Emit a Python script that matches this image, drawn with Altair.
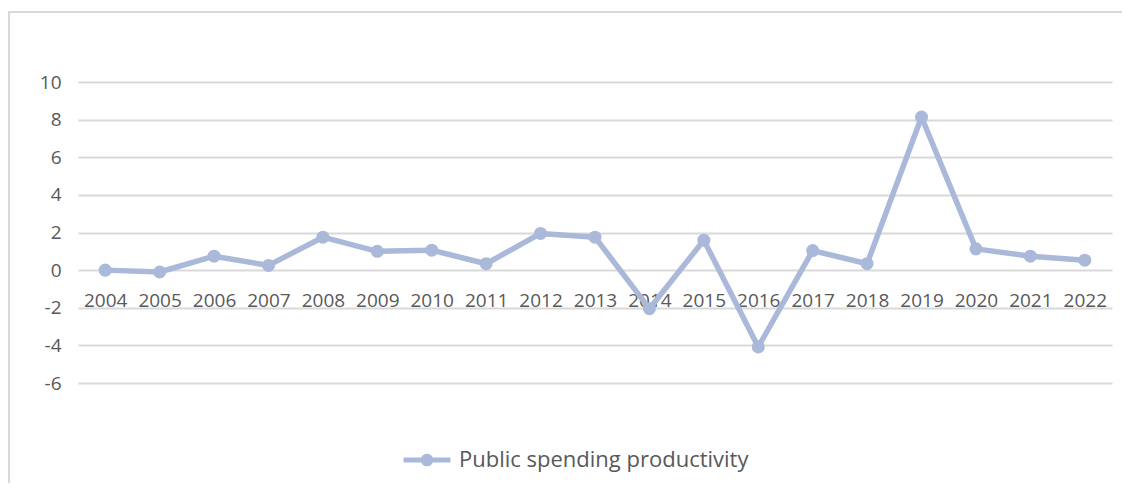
import altair as alt
import pandas as pd

years = [str(y) for y in range(2004, 2023)]
values = [0.0, -0.1, 0.74, 0.25, 1.75, 1.0, 1.06, 0.34, 1.95, 1.75,
          -2.05, 1.59, -4.08, 1.04, 0.34, 8.14, 1.13, 0.74, 0.53]
series_name = "Public spending productivity"
y_ticks = [-6, -4, -2, 0, 2, 4, 6, 8, 10]

LINE = "#aab9d9"
TEXT = "#595959"
GRID = "#d9d9d9"
FONT = "Open Sans"

df = pd.DataFrame({"year": years, "value": values, "series": [series_name] * len(years)})

x_enc = alt.X(
    "year:O",
    scale=alt.Scale(type="point", padding=0.5),
    axis=alt.Axis(
        title=None, domain=False, ticks=False, tickSize=0, grid=False,
        labelAngle=0, labelFont=FONT, labelFontSize=19, labelColor=TEXT,
        labelPadding=21, labelBaseline="top", offset=-112.6,
    ),
)
y_enc = alt.Y(
    "value:Q",
    scale=alt.Scale(domain=[-6, 10], nice=False, zero=False),
    axis=alt.Axis(
        title=None, values=y_ticks, domain=False, ticks=False, tickSize=0,
        grid=True, gridColor=GRID, gridWidth=2,
        labelExpr="'' + datum.value",
        labelFont=FONT, labelFontSize=19, labelColor=TEXT, labelPadding=17,
    ),
)

base = alt.Chart(df)

line = base.mark_line(color=LINE, strokeWidth=5.5, strokeJoin="round", strokeCap="round").encode(
    x=x_enc, y=y_enc
)

legend_path = ("M-0.92,0L0.92,0M0.15,0A0.15,0.15,0,1,1,-0.15,0"
               "A0.15,0.15,0,1,1,0.15,0Z")

points = base.mark_point(filled=True, size=170, opacity=1).encode(
    x=x_enc, y=y_enc,
    color=alt.Color(
        "series:N",
        scale=alt.Scale(range=[LINE]),
        legend=alt.Legend(
            title=None, orient="none", legendX=321, legendY=350,
            symbolType=legend_path, symbolSize=2601,
            symbolStrokeColor=LINE, symbolFillColor=LINE, symbolStrokeWidth=5,
            symbolOpacity=1, labelLimit=0,
            labelFont=FONT, labelFontSize=22, labelColor=TEXT, labelOffset=4,
            padding=0, offset=0,
        ),
    ),
)

frame_top = alt.Chart(df).mark_rule(color=GRID, strokeWidth=2).encode(
    x=alt.value(-70), x2=alt.value(1044), y=alt.value(-70)
)
frame_left = alt.Chart(df).mark_rule(color=GRID, strokeWidth=2).encode(
    x=alt.value(-69), y=alt.value(-71), y2=alt.value(410)
)

chart = (
    alt.layer(frame_top, frame_left, line, points)
    .properties(
        width=1034, height=301,
        background="white",
        padding={"left": 70, "top": 74, "right": 10, "bottom": 100},
        autosize=alt.AutoSizeParams(type="none"),
    )
    .configure_view(stroke="transparent", strokeWidth=0)
)

chart.save("out.html", embed_options={"renderer": "svg", "actions": False})
